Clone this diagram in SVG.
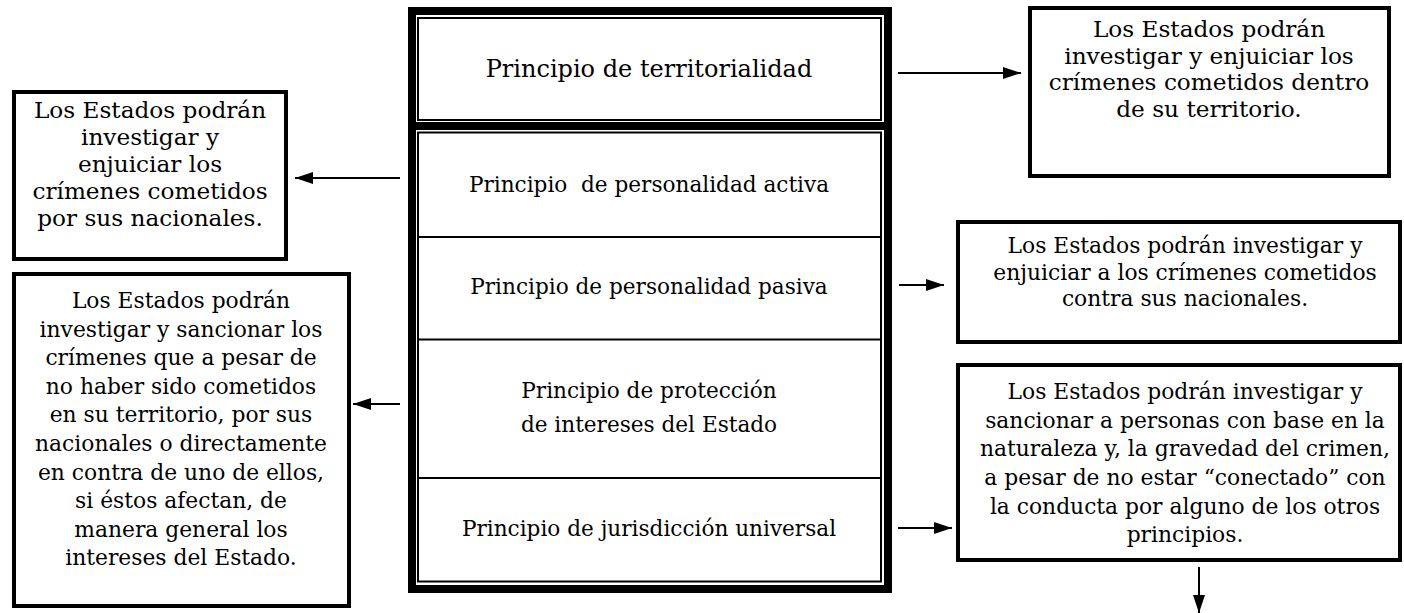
<svg xmlns="http://www.w3.org/2000/svg" width="1404" height="613" viewBox="0 0 1404 613">
<style>
text{font-family:"DejaVu Serif","Liberation Serif",serif;font-size:21.6px;fill:#000;text-anchor:middle}
.big{font-size:24px}
.tr{font-size:23.2px}
.l1{font-size:23.2px}
.l2{font-size:21.8px}
.r{font-size:21.8px}
.box{fill:#fff;stroke:#000;stroke-width:4}
.cell{fill:none;stroke:#000;stroke-width:2}
.conn line{stroke:#000;stroke-width:2}
</style>
<defs>
<marker id="ah" viewBox="0 0 18 12" refX="18" refY="6" markerWidth="18" markerHeight="12" markerUnits="userSpaceOnUse" orient="auto">
<path d="M0,0 L18,6 L0,12 Z" fill="#000"/>
</marker>
</defs>
<rect width="1404" height="613" fill="#fff"/>
<g id="principios">
<path d="M408,7 H892 V593 H408 Z M416,15 V585 H884 V15 Z" fill="#000" fill-rule="evenodd"/>
<rect x="408" y="122" width="484" height="8" fill="#000"/>
<rect class="cell" x="418" y="18" width="463" height="102"/>
<rect class="cell" x="418" y="132.5" width="463" height="449"/>
<line class="cell" x1="418" y1="237" x2="881" y2="237"/>
<line class="cell" x1="418" y1="339.5" x2="881" y2="339.5"/>
<line class="cell" x1="418" y1="478" x2="881" y2="478"/>
<text class="big" x="649" y="77">Principio de territorialidad</text>
<text x="649" y="192" xml:space="preserve">Principio  de personalidad activa</text>
<text x="649" y="294">Principio de personalidad pasiva</text>
<text x="649" y="398">Principio de protección</text>
<text x="649" y="432">de intereses del Estado</text>
<text x="649" y="536">Principio de jurisdicción universal</text>
</g>
<g id="territorialidad">
<rect class="box" x="1030" y="8" width="359" height="168"/>
<text class="tr" x="1209" y="37">Los Estados podrán</text>
<text class="tr" x="1209" y="63.5">investigar y enjuiciar los</text>
<text class="tr" x="1209" y="90">crímenes cometidos dentro</text>
<text class="tr" x="1209" y="116.5">de su territorio.</text>
</g>
<g id="activa">
<rect class="box" x="14" y="92" width="272" height="167"/>
<text class="l1" x="150" y="118">Los Estados podrán</text>
<text class="l1" x="150" y="145">investigar y</text>
<text class="l1" x="150" y="172">enjuiciar los</text>
<text class="l1" x="150" y="199">crímenes cometidos</text>
<text class="l1" x="150" y="226">por sus nacionales.</text>
</g>
<g id="pasiva">
<rect class="box" x="958" y="222" width="442" height="120"/>
<text class="r" x="1185" y="253">Los Estados podrán investigar y</text>
<text class="r" x="1185" y="280">enjuiciar a los crímenes cometidos</text>
<text class="r" x="1185" y="306">contra sus nacionales.</text>
</g>
<g id="proteccion">
<rect class="box" x="14" y="274" width="335" height="332"/>
<text class="l2" x="181" y="308">Los Estados podrán</text>
<text class="l2" x="181" y="337">investigar y sancionar los</text>
<text class="l2" x="181" y="365">crímenes que a pesar de</text>
<text class="l2" x="181" y="394">no haber sido cometidos</text>
<text class="l2" x="181" y="422">en su territorio, por sus</text>
<text class="l2" x="181" y="451">nacionales o directamente</text>
<text class="l2" x="181" y="480">en contra de uno de ellos,</text>
<text class="l2" x="181" y="508">si éstos afectan, de</text>
<text class="l2" x="181" y="537">manera general los</text>
<text class="l2" x="181" y="565">intereses del Estado.</text>
</g>
<g id="universal">
<rect class="box" x="958" y="365" width="442" height="195"/>
<text class="r" x="1185" y="399">Los Estados podrán investigar y</text>
<text class="r" x="1185" y="428">sancionar a personas con base en la</text>
<text class="r" x="1185" y="456">naturaleza y, la gravedad del crimen,</text>
<text class="r" x="1185" y="485">a pesar de no estar “conectado” con</text>
<text class="r" x="1185" y="514">la conducta por alguno de los otros</text>
<text class="r" x="1185" y="542">principios.</text>
</g>
<g class="conn" id="connectors">
<line x1="898" y1="73" x2="1021" y2="73" marker-end="url(#ah)"/>
<line x1="400" y1="178" x2="295" y2="178" marker-end="url(#ah)"/>
<line x1="899" y1="285" x2="944" y2="285" marker-end="url(#ah)"/>
<line x1="400" y1="404" x2="353" y2="404" marker-end="url(#ah)"/>
<line x1="898" y1="528" x2="952" y2="528" marker-end="url(#ah)"/>
<line x1="1199" y1="567" x2="1199" y2="613" marker-end="url(#ah)"/>
</g>
</svg>
